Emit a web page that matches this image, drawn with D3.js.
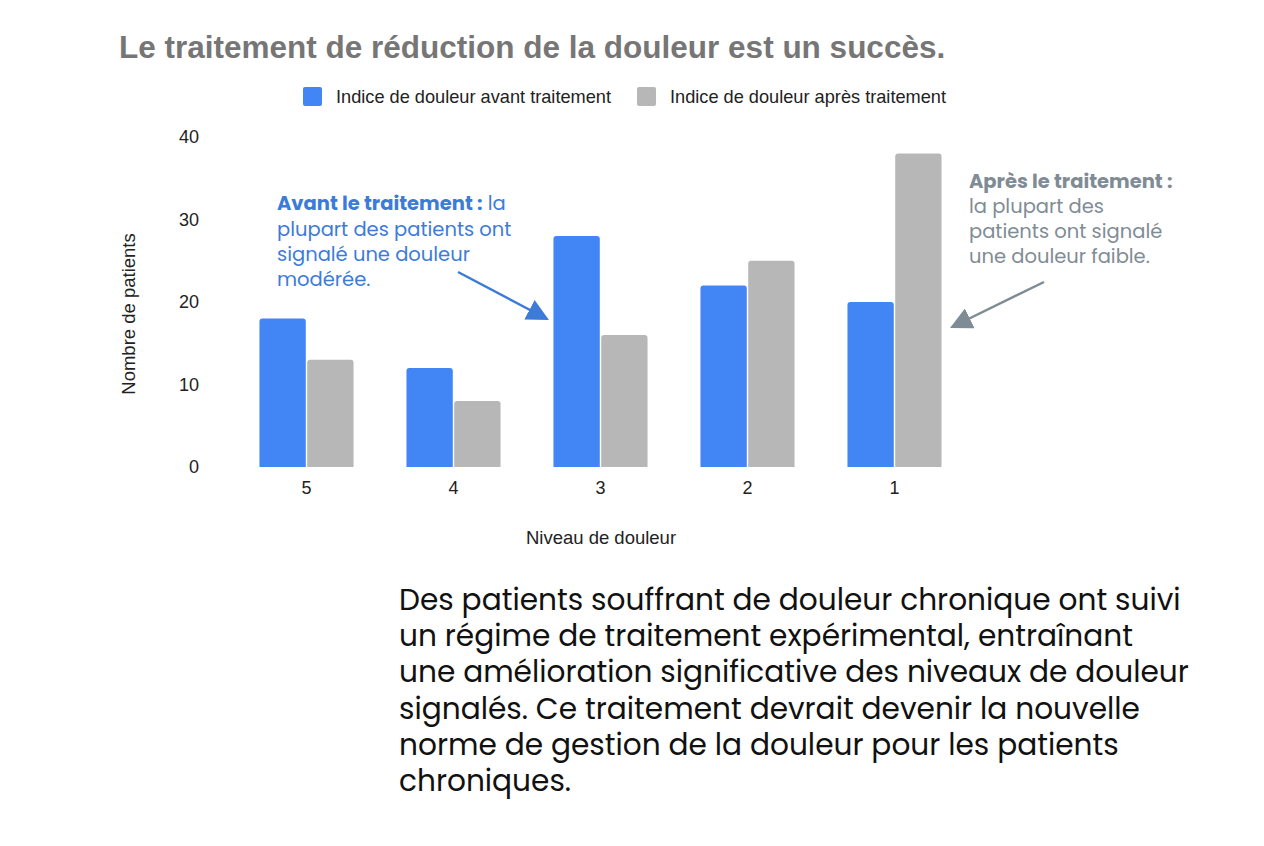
<!DOCTYPE html>
<html lang="fr">
<head>
<meta charset="UTF-8">
<script src="https://d3js.org/d3.v7.min.js"></script>
<style>
  body { margin: 0; background: #fff; }
</style>
</head>
<body>
<svg width="1264" height="846" id="chart"></svg>
<script>
// chart data
const levels = ["5", "4", "3", "2", "1"];
const seriesNames = ["Indice de douleur avant traitement", "Indice de douleur après traitement"];
const before = [18, 12, 28, 22, 20];
const after = [13, 8, 16, 25, 38];
const yTicks = [0, 10, 20, 30, 40];

const colors = ["#4285f4", "#b7b7b7"];
const axisFont = "Liberation Sans, Arial, sans-serif";

const svg = d3.select("#chart");
svg.append("rect").attr("width", 1264).attr("height", 846).attr("fill", "#fff");

const x0 = d3.scaleBand().domain(levels).range([233, 968]).paddingInner(0.36).paddingOuter(0.18);
const x1 = d3.scaleBand().domain([0, 1]).range([0, x0.bandwidth()]).paddingInner(0.03);
const y = d3.scaleLinear().domain([0, 40]).range([467, 137]);

// title
svg.append("text")
    .attr("x", 119).attr("y", 58)
    .style("font-family", axisFont)
    .style("font-weight", "bold")
    .style("font-size", "31.5px")
    .attr("fill", "#767676")
    .text("Le traitement de réduction de la douleur est un succès.");

// legend
const legendX = [303, 637];
seriesNames.forEach(function(name, i) {
    svg.append("rect")
        .attr("x", legendX[i]).attr("y", 87).attr("width", 19).attr("height", 19)
        .attr("rx", 2).attr("fill", colors[i]);
    svg.append("text")
        .attr("x", legendX[i] + 33).attr("y", 103)
        .style("font-family", axisFont)
        .style("font-size", "18.2px")
        .attr("fill", "#222")
        .text(name);
});

// y axis
const yAxis = svg.append("g")
    .attr("transform", "translate(199,0)")
    .call(d3.axisLeft(y).tickValues(yTicks).tickSize(0).tickPadding(0));
yAxis.select(".domain").remove();
yAxis.selectAll("text")
    .style("font-family", axisFont)
    .style("font-size", "18px")
    .attr("fill", "#222");

// x axis
const xAxis = svg.append("g")
    .attr("transform", "translate(0,477)")
    .call(d3.axisBottom(x0).tickSize(0).tickPadding(4));
xAxis.select(".domain").remove();
xAxis.selectAll("text")
    .style("font-family", axisFont)
    .style("font-size", "18px")
    .attr("fill", "#222");

// axis titles
svg.append("text")
    .attr("transform", "translate(135,314) rotate(-90)")
    .style("text-anchor", "middle")
    .style("font-family", axisFont)
    .style("font-size", "18.5px")
    .attr("fill", "#222")
    .text("Nombre de patients");

svg.append("text")
    .attr("x", 601).attr("y", 544)
    .style("text-anchor", "middle")
    .style("font-family", axisFont)
    .style("font-size", "18.5px")
    .attr("fill", "#222")
    .text("Niveau de douleur");

// bars (rounded top corners only)
function barPath(x, yTop, w, yBase, r) {
    return "M" + x + "," + yBase +
        "V" + (yTop + r) +
        "Q" + x + "," + yTop + " " + (x + r) + "," + yTop +
        "H" + (x + w - r) +
        "Q" + (x + w) + "," + yTop + " " + (x + w) + "," + (yTop + r) +
        "V" + yBase + "Z";
}

const rows = levels.map(function(l, i) { return { level: l, values: [before[i], after[i]] }; });
const groups = svg.selectAll("g.grp").data(rows).enter().append("g")
    .attr("class", "grp")
    .attr("transform", d => "translate(" + x0(d.level) + ",0)");
groups.selectAll("path")
    .data(d => d.values.map((v, k) => ({ k: k, v: v })))
    .enter().append("path")
    .attr("d", d => barPath(x1(d.k), y(d.v), x1.bandwidth(), y(0), 3))
    .attr("fill", d => colors[d.k]);

// annotations
const annoFont = "Poppins, 'Noto Sans', sans-serif";
const leftNote = svg.append("text")
    .style("font-family", annoFont)
    .style("font-size", "19.5px")
    .attr("fill", "#3d7bd9");
const l1 = leftNote.append("tspan").attr("x", 277).attr("y", 210);
l1.append("tspan").style("font-weight", "bold").text("Avant le traitement :");
l1.append("tspan").text(" la");
["plupart des patients ont", "signalé une douleur", "modérée."].forEach(function(t, i) {
    leftNote.append("tspan").attr("x", 277).attr("y", 236 + i * 25).text(t);
});

const rightNote = svg.append("text")
    .style("font-family", annoFont)
    .style("font-size", "19.5px")
    .attr("fill", "#7f8c95");
rightNote.append("tspan").attr("x", 969).attr("y", 188)
    .style("font-weight", "bold").text("Après le traitement :");
["la plupart des", "patients ont signalé", "une douleur faible."].forEach(function(t, i) {
    rightNote.append("tspan").attr("x", 969).attr("y", 213 + i * 25).text(t);
});

// arrows
const defs = svg.append("defs");
function marker(id, color) {
    defs.append("marker")
        .attr("id", id).attr("viewBox", "0 0 10 10")
        .attr("refX", 9).attr("refY", 5)
        .attr("markerUnits", "userSpaceOnUse")
        .attr("orient", "auto")
        .attr("markerWidth", 22).attr("markerHeight", 22)
        .append("path").attr("d", "M0,0L10,5L0,10Z").attr("fill", color);
}
marker("arrowBlue", "#3d7bd9");
marker("arrowGray", "#7f8c95");

svg.append("line")
    .attr("x1", 458).attr("y1", 272).attr("x2", 547).attr("y2", 319)
    .attr("stroke", "#3d7bd9").attr("stroke-width", 2.5)
    .attr("marker-end", "url(#arrowBlue)");
svg.append("line")
    .attr("x1", 1044).attr("y1", 282).attr("x2", 952).attr("y2", 327)
    .attr("stroke", "#7f8c95").attr("stroke-width", 2.5)
    .attr("marker-end", "url(#arrowGray)");

// description text
const body = ["Des patients souffrant de douleur chronique ont suivi",
    "un régime de traitement expérimental, entraînant",
    "une amélioration significative des niveaux de douleur",
    "signalés. Ce traitement devrait devenir la nouvelle",
    "norme de gestion de la douleur pour les patients",
    "chroniques."];
const bodyText = svg.append("text")
    .style("font-family", "Poppins, 'Noto Sans', sans-serif")
    .style("font-size", "29.6px")
    .attr("fill", "#111");
body.forEach(function(t, i) {
    bodyText.append("tspan").attr("x", 399).attr("y", 610 + i * 36.2).text(t);
});
</script>
</body>
</html>
